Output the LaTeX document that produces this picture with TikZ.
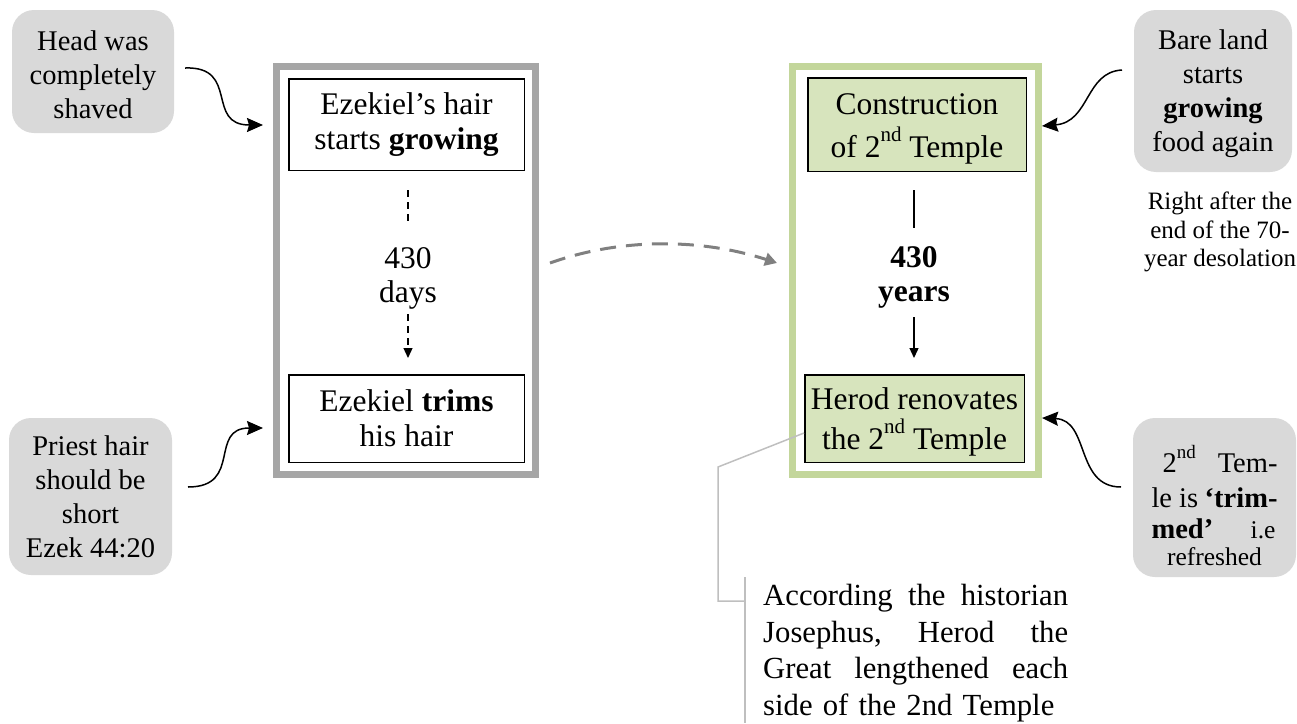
\documentclass[tikz,border=0pt]{standalone}
\usepackage{fontspec}
\setmainfont{Liberation Serif}
\usetikzlibrary{arrows.meta}
\definecolor{calloutgray}{HTML}{D9D9D9}
\definecolor{framegray}{HTML}{A6A6A6}
\definecolor{framegreen}{HTML}{C3D69B}
\definecolor{greenfill}{HTML}{D7E4BD}
\definecolor{arcgray}{HTML}{808080}
\definecolor{linegray}{HTML}{BFBFBF}
\newcommand{\jline}[2]{\leavevmode\hbox to #1{#2}}
\newcommand{\supx}[3]{\raisebox{#2}{\fontsize{#1}{#1}\selectfont #3}}
\begin{document}
\begin{tikzpicture}[x=1pt,y=-1pt,
  callout/.style={fill=calloutgray, rounded corners=22pt, inner sep=0pt, align=center,
    font=\fontsize{28.5}{34}\selectfont},
  frameL/.style={draw=framegray, line width=7pt, inner sep=0pt},
  frameR/.style={draw=framegreen, line width=7pt, inner sep=0pt},
  boxL/.style={draw=black, line width=1.5pt, inner sep=0pt, align=center,
    font=\fontsize{31.5}{35}\selectfont},
  boxG/.style={boxL, fill=greenfill},
  lbl/.style={inner sep=0pt, align=center, font=\fontsize{31.5}{34}\selectfont},
  curvearrow/.style={line width=1.5pt, -{Stealth[length=16pt,width=14pt,inset=2pt]}},
  smalldash/.style={line width=1.3pt, dash pattern=on 7pt off 5pt},
  smallline/.style={line width=1.3pt},
  smallhead/.style={-{Triangle[length=10pt,width=9pt]}},
  bigarc/.style={draw=arcgray, line width=3pt, dash pattern=on 16pt off 10pt,
    -{Triangle[length=12pt,width=13pt]}},
  calloutline/.style={draw=linegray, line width=1.5pt}
]
\useasboundingbox (0,0) rectangle (1297,723);

% frames
\node[frameL, minimum width=259pt, minimum height=408pt] (FL) at (406,270.5) {};
\node[frameR, minimum width=246pt, minimum height=408pt] (FR) at (915.5,270.5) {};

% left inner boxes
\node[boxL, minimum width=235.5pt, minimum height=91.5pt] (T1) at (406.5,124.5)
  {Ezekiel’s hair\\starts \textbf{growing}};
\node[boxL, minimum width=235.5pt, minimum height=87.5pt] (B1) at (406.5,418.5)
  {Ezekiel \textbf{trims}\\his hair};
\node[lbl] (L1) at (408,278) {430\\days};

% right inner boxes
\node[boxG, minimum width=218.5pt, minimum height=93.5pt] (T2) at (917,124.5)
  {\rule{0pt}{29.5pt}Construction\\[8pt]of 2\supx{21pt}{16pt}{nd} Temple};
\node[boxG, minimum width=219.5pt, minimum height=87.5pt] (B2) at (914.5,418.5)
  {\rule{0pt}{28.5pt}Herod renovates\\[5pt]the 2\supx{21pt}{16pt}{nd} Temple};
\node[lbl] (L2) at (914,277) {\textbf{430}\\\textbf{years}};

% inner connectors
\draw[smalldash, shorten <=19pt, shorten >=23pt] (T1.south -| L1) -- (L1.north);
\draw[smalldash, smallhead, shorten <=5pt, shorten >=16pt] (L1.south) -- (B1.north -| L1);
\draw[smallline, shorten <=18pt, shorten >=18pt] (T2.south -| L2) -- (L2.north);
\draw[smallline, smallhead, shorten <=9pt, shorten >=16pt] (L2.south) -- (B2.north -| L2);

% callouts
\node[callout, minimum width=162pt, minimum height=123pt] (C1) at (93,71.5)
  {\rule{0pt}{27pt}Head was\\completely\\shaved};
\node[callout, minimum width=163pt, minimum height=157pt] (C2) at (90.5,496.5)
  {Priest hair\\should be\\short\\Ezek 44:20};
\node[callout, minimum width=158pt, minimum height=162pt] (C3) at (1213,91)
  {\rule{0pt}{25pt}Bare land\\starts\\\textbf{growing}\\food again};
\node[callout, minimum width=163pt, minimum height=159pt, font=\fontsize{28.5}{33}\selectfont] (C4) at (1214.5,497.5)
  {\jline{126pt}{\rule{0pt}{44pt}\hspace{11pt}2\supx{19pt}{14pt}{nd}\hfill Tem-}\\[2pt]
   \jline{126pt}{le is\hfill\textbf{‘trim-}}\\[-2pt]
   \jline{126pt}{\textbf{med’}\hfill{\fontsize{25.5}{27}\selectfont i.e}\hspace{2pt}}\\[-6pt]
   {\fontsize{25.5}{27}\selectfont refreshed}};

\node[inner sep=0pt, align=center, font=\fontsize{25}{28.5}\selectfont] (N1) at (1220,232)
  {Right after the\\end of the 70-\\year desolation};

% curved arrows
\coordinate (s1) at (185,68);  \coordinate (e1) at (263,125);
\coordinate (s2) at (188,487); \coordinate (e2) at (263,428);
\coordinate (s3) at (1122,70); \coordinate (e3) at (1042,126);
\coordinate (s4) at (1121,487); \coordinate (e4) at (1042,418);
\draw[curvearrow] (s1) .. controls (240,66) and (205,125) .. (e1);
\draw[curvearrow] (s2) .. controls (243,487) and (208,428) .. (e2);
\draw[curvearrow] (s3) .. controls (1085,72) and (1090,122) .. (e3);
\draw[curvearrow] (s4) .. controls (1075,487) and (1090,420) .. (e4);

% big dashed arc
\coordinate (a1) at (550,263); \coordinate (a2) at (777,263);
\draw[bigarc] (a1) .. controls (620,238) and (700,238) .. (a2);

% annotation callout
\coordinate (cl1) at ([yshift=-14.5pt]B2.west);
\coordinate (cl2) at (718,467);
\coordinate (cl3) at (718,601);
\coordinate (cl4) at (745,601);
\draw[calloutline] (cl1) -- (cl2) -- (cl3) -- (cl4);
\coordinate (bar1) at (745,577); \coordinate (bar2) at (745,723);
\draw[calloutline] (bar1) -- (bar2);

\node[inner sep=0pt, anchor=north west, text width=305pt, align=left,
  font=\fontsize{30.7}{36.7}\selectfont] (A1) at (763,584)
  {\jline{305pt}{According\hfill the\hfill historian}\\
   \jline{305pt}{Josephus,\hfill Herod\hfill the}\\
   \jline{305pt}{Great\hfill lengthened\hfill each}\\
   side of the 2nd Temple};
\end{tikzpicture}
\end{document}
